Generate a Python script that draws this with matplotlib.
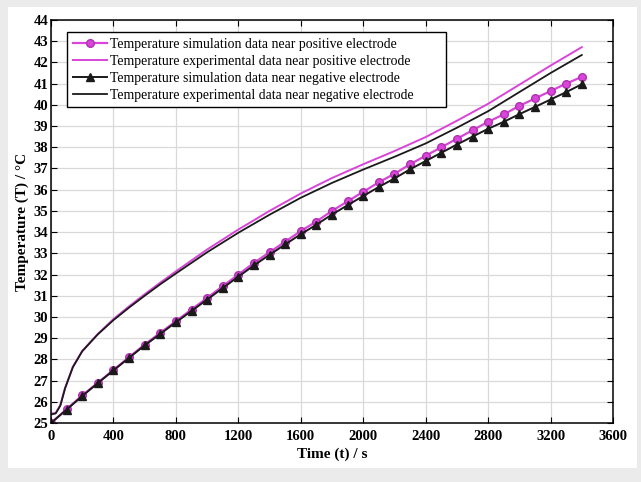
import matplotlib
matplotlib.use("Agg")
from matplotlib import pyplot as plt
from matplotlib.patches import Rectangle
import numpy as np

# simulation data, every 100 s
sim_t = list(range(0, 3500, 100))
sim_pos = [25.0, 25.65, 26.3, 26.9, 27.5, 28.1, 28.7, 29.25, 29.8, 30.35,
           30.9, 31.45, 32.0, 32.55, 33.05, 33.55, 34.05, 34.5, 35.0, 35.45,
           35.9, 36.35, 36.75, 37.2, 37.6, 38.0, 38.4, 38.8, 39.2, 39.55,
           39.95, 40.3, 40.65, 41.0, 41.32]
sim_neg = [25.0, 25.63, 26.27, 26.88, 27.48, 28.07, 28.66, 29.2, 29.75, 30.28,
           30.82, 31.36, 31.9, 32.43, 32.93, 33.42, 33.9, 34.35, 34.83, 35.27,
           35.7, 36.13, 36.53, 36.96, 37.35, 37.74, 38.13, 38.5, 38.87, 39.2,
           39.56, 39.9, 40.25, 40.6, 40.97]

# experimental data
exp_t = [0, 30, 60, 90, 140, 200, 300, 400, 500, 600, 700, 800, 1000, 1200,
         1400, 1600, 1800, 2000, 2200, 2400, 2600, 2800, 3000, 3200, 3400]
exp_pos = [25.45, 25.47, 25.85, 26.65, 27.65, 28.4, 29.2, 29.9, 30.5, 31.07,
           31.62, 32.15, 33.18, 34.12, 35.0, 35.82, 36.55, 37.2, 37.82, 38.48,
           39.25, 40.05, 40.95, 41.85, 42.72]
exp_neg = [25.4, 25.45, 25.82, 26.63, 27.63, 28.38, 29.18, 29.85, 30.44, 31.0,
           31.54, 32.05, 33.05, 33.97, 34.82, 35.62, 36.32, 36.95, 37.55, 38.18,
           38.92, 39.7, 40.6, 41.5, 42.35]

labels = ["Temperature simulation data near positive electrode",
          "Temperature experimental data near positive electrode",
          "Temperature simulation data near negative electrode",
          "Temperature experimental data near negative electrode"]

magenta = "#d845d8"
black = "#1a1a1a"

plt.rcParams["font.family"] = ["Liberation Serif", "DejaVu Serif"]

fig = plt.figure(figsize=(6.41, 4.82), dpi=100)
fig.patch.set_facecolor("#ebebeb")
card = Rectangle((8 / 641, 14 / 482), 629 / 641, 461 / 482,
                 transform=fig.transFigure, facecolor="white",
                 edgecolor="none", zorder=-10)
fig.add_artist(card)
ax = fig.add_axes([51 / 641, 59 / 482, 562 / 641, 403 / 482])

ax.plot(sim_t, sim_pos, "-o", color=magenta, lw=1.6, ms=5.5,
        mfc=magenta, mec="#b030b0", label=labels[0])
ax.plot(exp_t, exp_pos, "-", color=magenta, lw=1.4, label=labels[1])
ax.plot(sim_t, sim_neg, "-^", color=black, lw=1.4, ms=5.5, label=labels[2])
ax.plot(exp_t, exp_neg, "-", color=black, lw=1.3, label=labels[3])

ax.set_xlim(0, 3600)
ax.set_ylim(25, 44)
ax.set_xticks(np.arange(0, 3601, 400))
ax.set_yticks(np.arange(25, 45, 1))
ax.grid(True, color="#d9d9d9", lw=0.9)
ax.set_axisbelow(True)
ax.tick_params(direction="in", top=True, right=True, length=4,
               labelsize=10.5)
ax.tick_params(axis="x", pad=5)
ax.tick_params(axis="y", pad=2)
for lab in ax.get_xticklabels() + ax.get_yticklabels():
    lab.set_fontweight("bold")
for s in ax.spines.values():
    s.set_linewidth(1.1)

ax.set_xlabel("Time (t) / s", fontsize=11, fontweight="bold", labelpad=3)
ax.set_ylabel("Temperature (T) / \u00b0C", fontsize=11, fontweight="bold",
              labelpad=3)

# legend without its own frame, box drawn separately (wider on the right)
leg = ax.legend(loc="upper left", bbox_to_anchor=(0.0285, 0.970),
                fontsize=9.9, frameon=False, handlelength=2.5,
                borderpad=0.4, labelspacing=0.3, handletextpad=0.25,
                borderaxespad=0)
box = Rectangle((0.0285, 0.784), 0.6745, 0.186, transform=ax.transAxes,
                facecolor="white", edgecolor="black", lw=1.0, zorder=4.9)
ax.add_patch(box)
leg.set_zorder(5)

fig.savefig("out.png", dpi=100, facecolor=fig.get_facecolor())
